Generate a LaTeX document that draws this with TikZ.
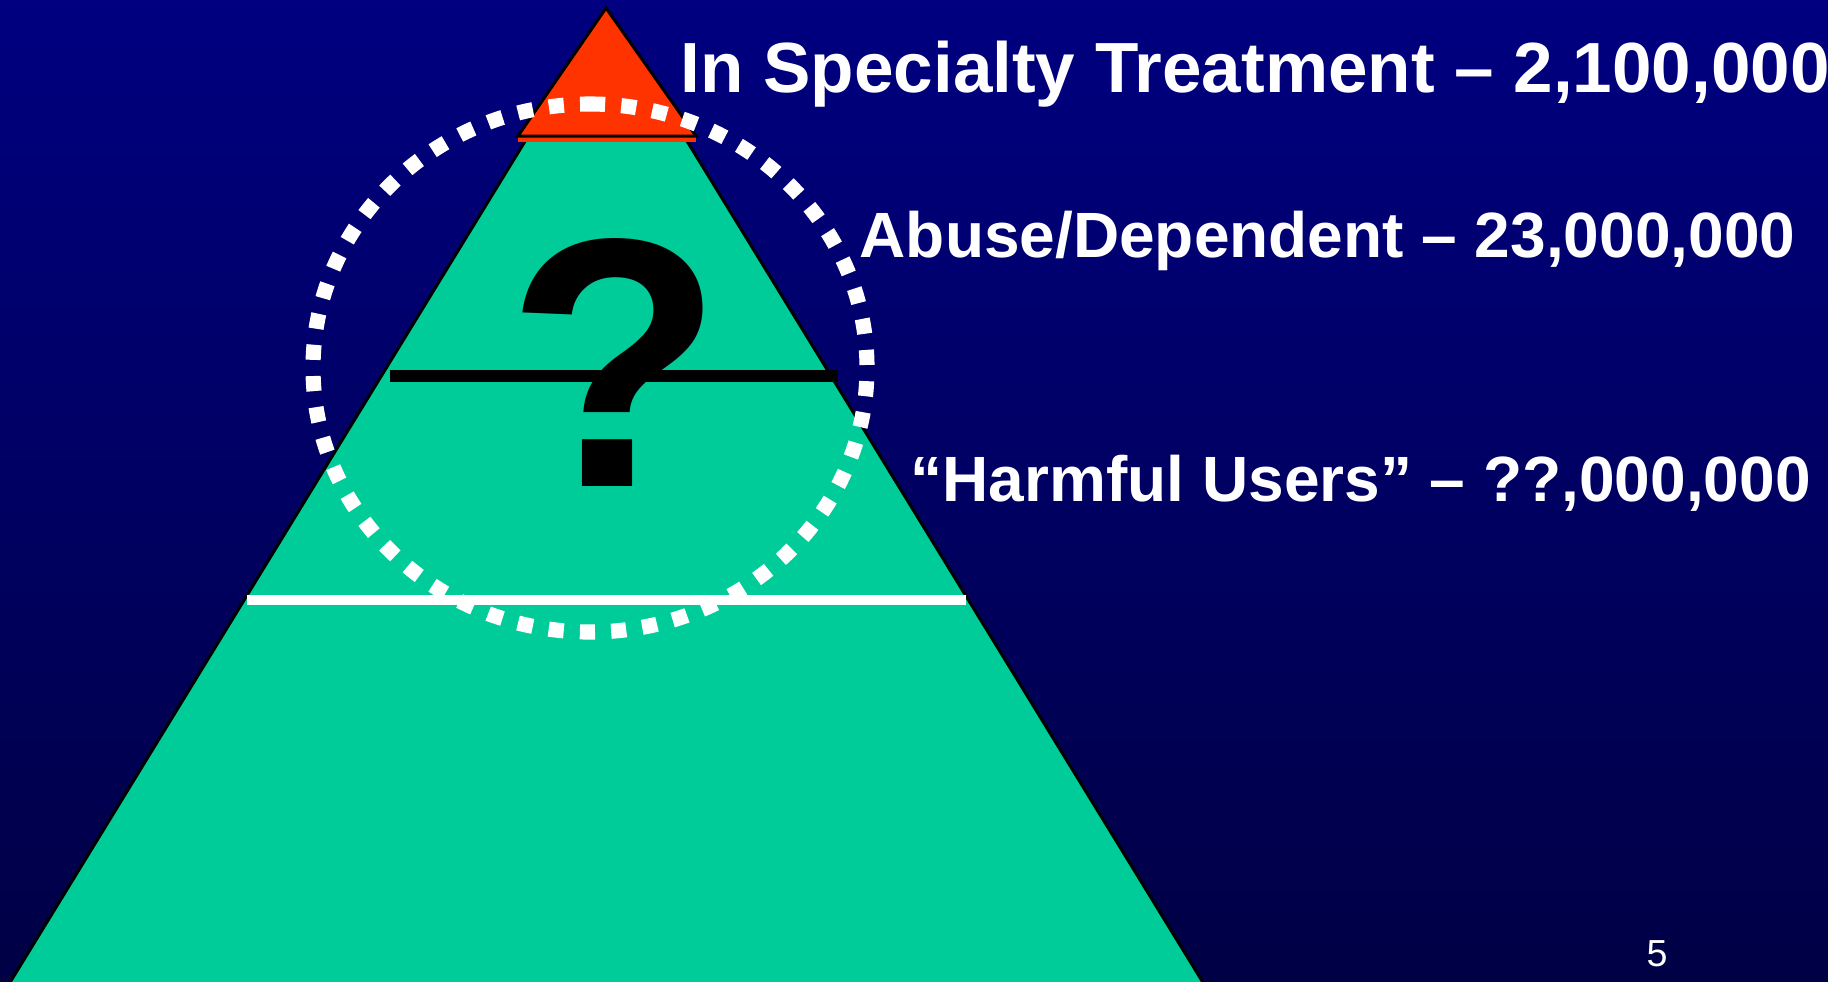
\documentclass[tikz,border=0pt]{standalone}
\usepackage{fontspec}
\setmainfont{Liberation Sans}
\definecolor{slideblue}{HTML}{00009C}
\definecolor{slidetop}{HTML}{000080}
\definecolor{slidebot}{HTML}{000045}
\definecolor{pyrgreen}{HTML}{00CC99}
\definecolor{tipred}{HTML}{FF3300}
\tikzset{
  tier/.style={draw=black,line width=0.85pt,line join=miter},
  label/.style={text=white,inner sep=0pt,anchor=base west},
  dotring/.style={white,line width=4.3pt,dash pattern=on 4.3pt off 4.6pt}
}
\begin{document}
\begin{tikzpicture}[x=0.01cm,y=-0.01cm]
	\def\W{1828} % picture size in pixels
	\def\H{981}
	\useasboundingbox (0,0) rectangle (\W,\H);
	\clip (0,0) rectangle (\W,\H);
	\fill[top color=slidetop,middle color=slideblue,bottom color=slidebot] (0,0) rectangle (\W,\H);
	% pyramid
	\filldraw[tier,fill=pyrgreen] (606,9) -- (-13,1020) -- (1226,1020) -- cycle;
	\fill[tipred] (518,136) rectangle (696,142);
	\filldraw[tier,fill=tipred] (606,8) -- (518,136) -- (696,136) -- cycle;
	\draw[black,line width=3.4pt] (390,376) -- (838,376);
	\draw[white,line width=2.9pt] (247,600) -- (966,600);
	\node[inner sep=0pt,anchor=base] (qmark) at (615,486) {\fontsize{101}{104}\selectfont\bfseries ?};
	\draw[dotring] (590,104) arc[start angle=-90,end angle=270,x radius=277,y radius=264];
	% labels
	\node[label] (treat) at (680,92) {\fontsize{20.2}{24}\selectfont\bfseries In Specialty Treatment -- 2,100,000};
	\node[label] (abuse) at (859,257) {\fontsize{18.2}{22}\selectfont\bfseries Abuse/Dependent -- 23,000,000};
	\node[label] (harm) at (910,501) {\fontsize{18.2}{22}\selectfont\bfseries ``Harmful Users'' -- ??,000,000};
	\node[label,anchor=base] (page) at (1657,966) {\fontsize{10.7}{12}\selectfont 5};
\end{tikzpicture}
\end{document}
